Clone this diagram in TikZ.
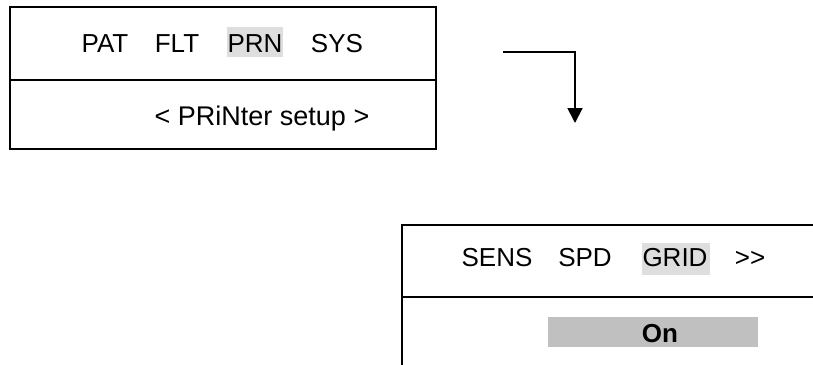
\documentclass[tikz,border=0pt]{standalone}
\usepackage{fontspec}
\setmainfont{Liberation Sans}
\usetikzlibrary{arrows.meta}
\definecolor{hl}{HTML}{DEDEDE}
\definecolor{onbg}{HTML}{C0C0C0}
\tikzset{
  frame/.style={draw=black, line width=1.8pt},
  menu/.style={anchor=base, inner sep=0pt, font=\fontsize{26}{31}\selectfont},
  bigtxt/.style={anchor=base, inner sep=0pt, font=\fontsize{27}{32}\selectfont},
  onbox/.style={fill=onbg},
  flow/.style={line width=1.8pt, -{Triangle[length=15pt,width=15pt]}}
}
\begin{document}
\begin{tikzpicture}[x=1pt,y=-1pt]
\useasboundingbox (0,0) rectangle (813,364);
\clip (0,0) rectangle (813,364);
% top box
\draw[frame] (10,7) rectangle (436,149);
\draw[frame] (10,80) -- (436,80);
\fill[hl] (227,27) rectangle (283,57);
\node[menu] (pat) at (105,52) {PAT};
\node[menu] (flt) at (177,52) {FLT};
\node[menu] (prn) at (255,52) {PRN};
\node[menu] (sys) at (337,52) {SYS};
\node[bigtxt] (setup) at (262,125) {< PRiNter setup >};
% arrow
\coordinate (a1) at (503,52);
\coordinate (a2) at (575,123);
\draw[flow] (a1) -| (a2);
% bottom box
\draw[frame] (402,225) rectangle (840,390);
\draw[frame] (402,297) -- (840,297);
\fill[hl] (642,243) rectangle (710,275);
\node[menu] (sens) at (497,266) {SENS};
\node[menu] (spd) at (585,266) {SPD};
\node[menu] (grid) at (675,266) {GRID};
\node[menu] (more) at (750,266) {{>}{>}};
\fill[onbox] (548,317) rectangle (758,347);
\node[menu, font=\fontsize{26}{31}\selectfont\bfseries] (on) at (660,342) {On};
\end{tikzpicture}
\end{document}
